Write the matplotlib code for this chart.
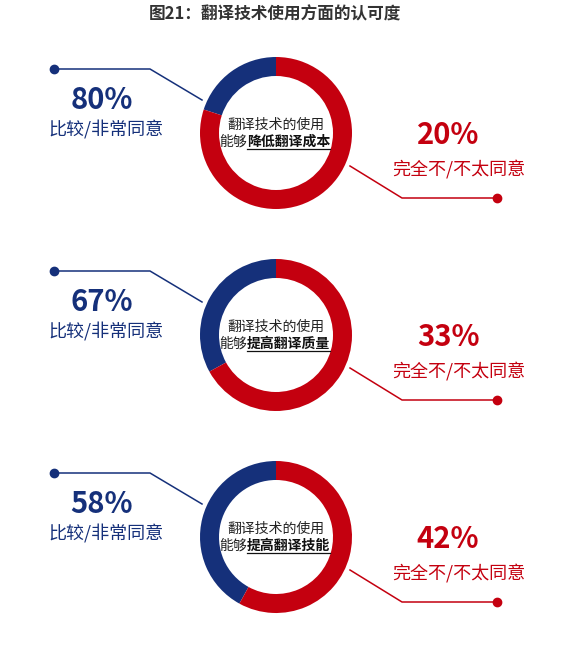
import matplotlib
matplotlib.use("Agg")
import matplotlib.pyplot as plt

plt.rcParams['font.family'] = ['Noto Sans CJK SC', 'DejaVu Sans']

title = '图21：翻译技术使用方面的认可度'
topics = ['降低翻译成本', '提高翻译质量', '提高翻译技能']
agree = [80, 67, 58]
disagree = [20, 33, 42]
agree_label = '比较/非常同意'
disagree_label = '完全不/不太同意'

navy = '#15307a'
red = '#c4000f'
W, H = 561, 655

fig = plt.figure(figsize=(W / 100, H / 100), dpi=100)
ax = fig.add_axes([0, 0, 1, 1])
ax.set_xlim(0, W)
ax.set_ylim(0, H)
ax.set_aspect('equal')
ax.axis('off')

ax.text(275, H - 14, title, ha='center', va='center', fontsize=12,
        fontweight='bold', color='#333333')

cx = 276
radius = 76
underlines = []
for i, topic in enumerate(topics):
    cy = H - (133 + 202 * i)
    # ring: blue part counter-clockwise from the top, as in the picture
    ax.pie([disagree[i], agree[i]], colors=[navy, red], startangle=90,
           counterclock=True, center=(cx, cy), radius=radius,
           wedgeprops=dict(width=19, linewidth=0), frame=True)

    # left leader line
    ax.plot([cx - 222, cx - 126, cx - 74], [cy + 64, cy + 64, cy + 33],
            color=navy, lw=1.1)
    ax.plot(cx - 222, cy + 64, 'o', color=navy, ms=6)
    ax.text(cx - 174, cy + 33, f'{agree[i]}%', ha='center', va='center',
            fontsize=21, fontweight='bold', color=navy)
    ax.text(cx - 170, cy + 3, agree_label, ha='center', va='center',
            fontsize=13, fontweight='medium', color=navy)

    # right leader line
    ax.plot([cx + 74, cx + 126, cx + 221], [cy - 33, cy - 65, cy - 65],
            color=red, lw=1.1)
    ax.plot(cx + 221, cy - 65, 'o', color=red, ms=6)
    ax.text(cx + 172, cy - 2, f'{disagree[i]}%', ha='center', va='center',
            fontsize=21, fontweight='bold', color=red)
    ax.text(cx + 183, cy - 36, disagree_label, ha='center', va='center',
            fontsize=13, fontweight='medium', color=red)

    # centre text
    ax.text(cx, cy + 8, '翻译技术的使用', ha='center', va='center',
            fontsize=10, color='#222222')
    ax.text(cx - 29, cy - 9, '能够', ha='right', va='center',
            fontsize=10, color='#222222')
    t = ax.text(cx - 29, cy - 9, topic, ha='left', va='center',
                fontsize=10, fontweight='bold', color='#111111')
    underlines.append((t, cy))

ax.set_xlim(0, W)
ax.set_ylim(0, H)

fig.canvas.draw()
inv = ax.transData.inverted()
for t, cy in underlines:
    bb = t.get_window_extent().transformed(inv)
    ax.plot([bb.x0, bb.x1], [cy - 16, cy - 16], color='#111111', lw=0.9)

fig.savefig('out.png', dpi=100, facecolor='white')
